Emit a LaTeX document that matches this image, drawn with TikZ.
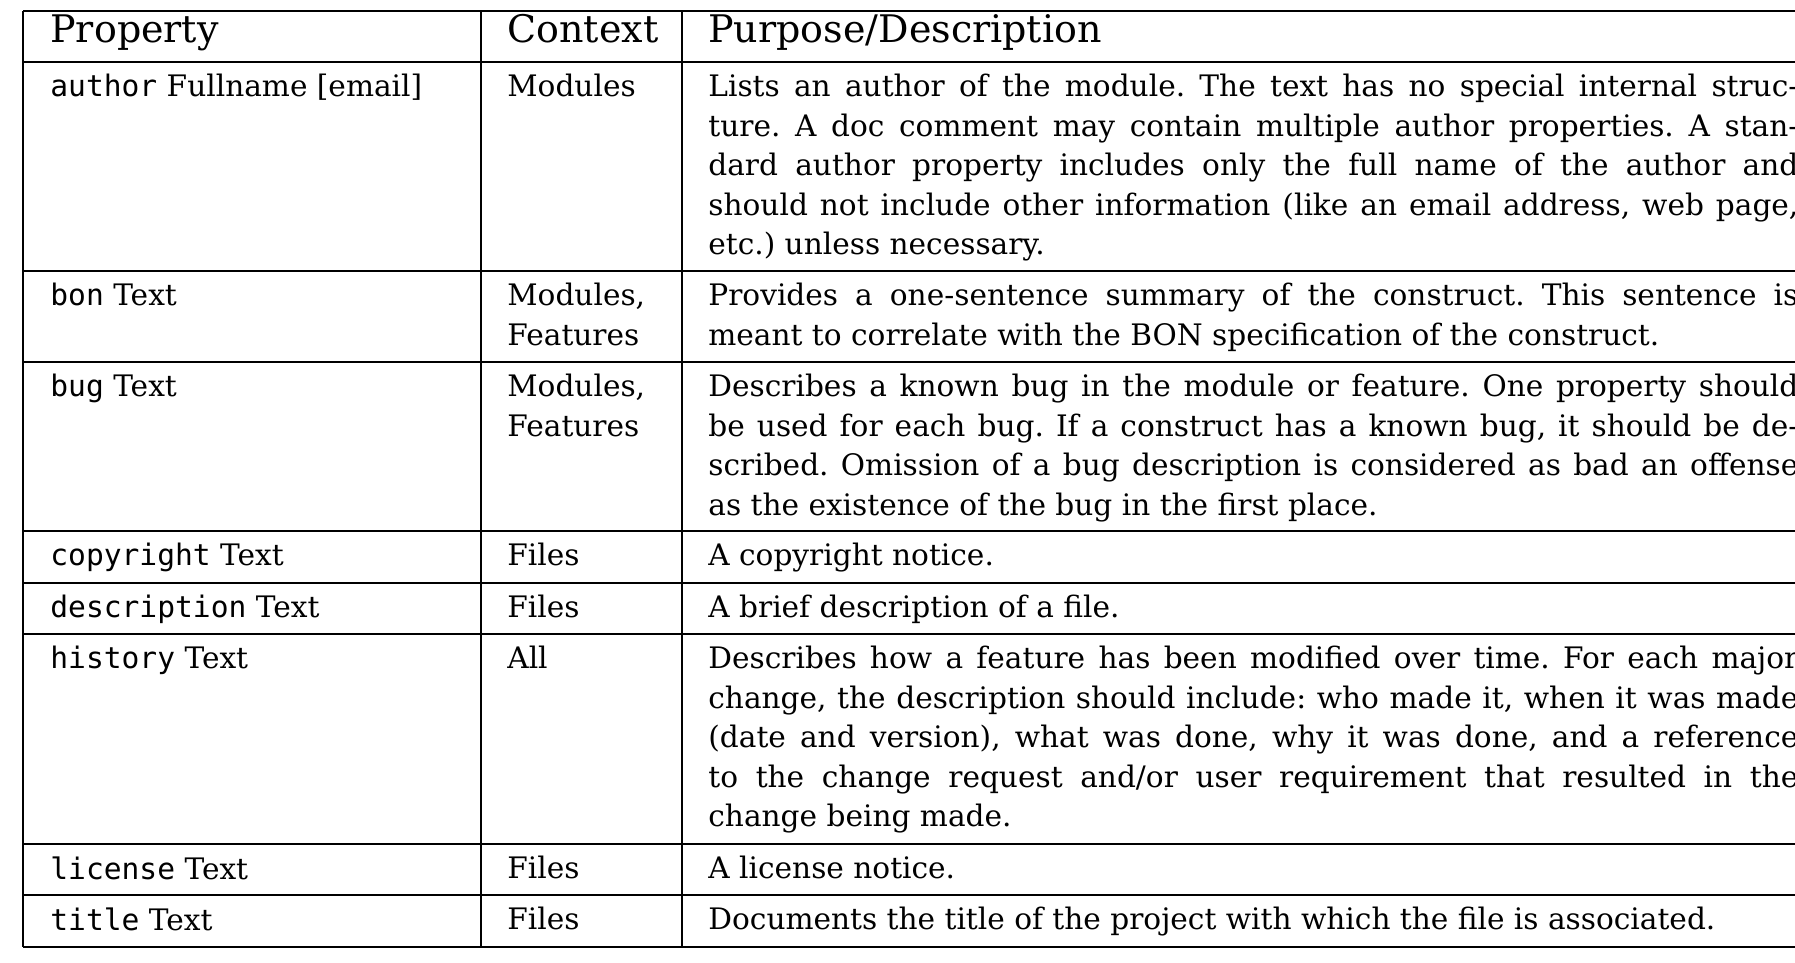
\documentclass[tikz,border=0pt]{standalone}
\usepackage{fontspec}
\setmainfont{DejaVu Serif}
\setmonofont{DejaVu Sans Mono}
\usetikzlibrary{positioning}

\begin{document}
\frenchspacing
\begin{tikzpicture}[x=0.5pt,y=-0.5pt,
    cell/.style={anchor=north west,inner sep=0pt,align=left,
      font=\fontsize{14.8}{19.75}\selectfont},
    desc/.style={cell,text width=545pt,align=justify},
    head/.style={anchor=north west,inner sep=0pt,font=\fontsize{19}{22}\selectfont},
    rule/.style={line width=1.4pt}]
  \useasboundingbox (0,0) rectangle (1795,963);

  % Header
  \node[head] (hprop) at (50,14) {Property};
  \node[head] (hctx) at (507,14) {Context};
  \node[head] (hdesc) at (708,14) {Purpose/Description};

  % Rows
  \node[cell] (pauthor) at (50,74) {\texttt{author} Fullname [email]};
  \node[cell] (cauthor) at (507,74) {Modules};
  \node[desc] (dauthor) at (708,74) {Lists an author of the module. The text has no special internal struc-\linebreak
    ture. A doc comment may contain multiple author properties. A stan-\linebreak
    dard author property includes only the full name of the author and\linebreak
    should not include other information (like an email address, web page,\linebreak
    etc.) unless necessary.};

  \node[cell] (pbon) at (50,283) {\texttt{bon} Text};
  \node[cell] (cbon) at (507,283) {Modules,\\Features};
  \node[desc] (dbon) at (708,283) {Provides a one-sentence summary of the construct. This sentence is\linebreak
    meant to correlate with the BON specification of the construct.};

  \node[cell] (pbug) at (50,374) {\texttt{bug} Text};
  \node[cell] (cbug) at (507,374) {Modules,\\Features};
  \node[desc] (dbug) at (708,374) {Describes a known bug in the module or feature. One property should\linebreak
    be used for each bug. If a construct has a known bug, it should be de-\linebreak
    scribed. Omission of a bug description is considered as bad an offense\linebreak
    as the existence of the bug in the first place.};

  \node[cell] (pcopy) at (50,543) {\texttt{copyright} Text};
  \node[cell] (ccopy) at (507,543) {Files};
  \node[desc] (dcopy) at (708,543) {A copyright notice.};

  \node[cell] (pdescr) at (50,595) {\texttt{description} Text};
  \node[cell] (cdescr) at (507,595) {Files};
  \node[desc] (ddescr) at (708,595) {A brief description of a file.};

  \node[cell] (phist) at (50,646) {\texttt{history} Text};
  \node[cell] (chist) at (507,646) {All};
  \node[desc] (dhist) at (708,646) {Describes how a feature has been modified over time. For each major\linebreak
    change, the description should include: who made it, when it was made\linebreak
    (date and version), what was done, why it was done, and a reference\linebreak
    to the change request and/or user requirement that resulted in the\linebreak
    change being made.};

  \node[cell] (plic) at (50,856) {\texttt{license} Text};
  \node[cell] (clic) at (507,856) {Files};
  \node[desc] (dlic) at (708,856) {A license notice.};

  \node[cell] (ptitle) at (50,907) {\texttt{title} Text};
  \node[cell] (ctitle) at (507,907) {Files};
  \node[desc] (dtitle) at (708,907) {Documents the title of the project with which the file is associated.};

  % Rules
  \foreach \y in {11,62,271,362,531,583,634,844,895,947}
    \draw[rule] (23,\y) -- (1800,\y);
  \foreach \x in {23,481,682}
    \draw[rule] (\x,11) -- (\x,947);
\end{tikzpicture}
\end{document}
